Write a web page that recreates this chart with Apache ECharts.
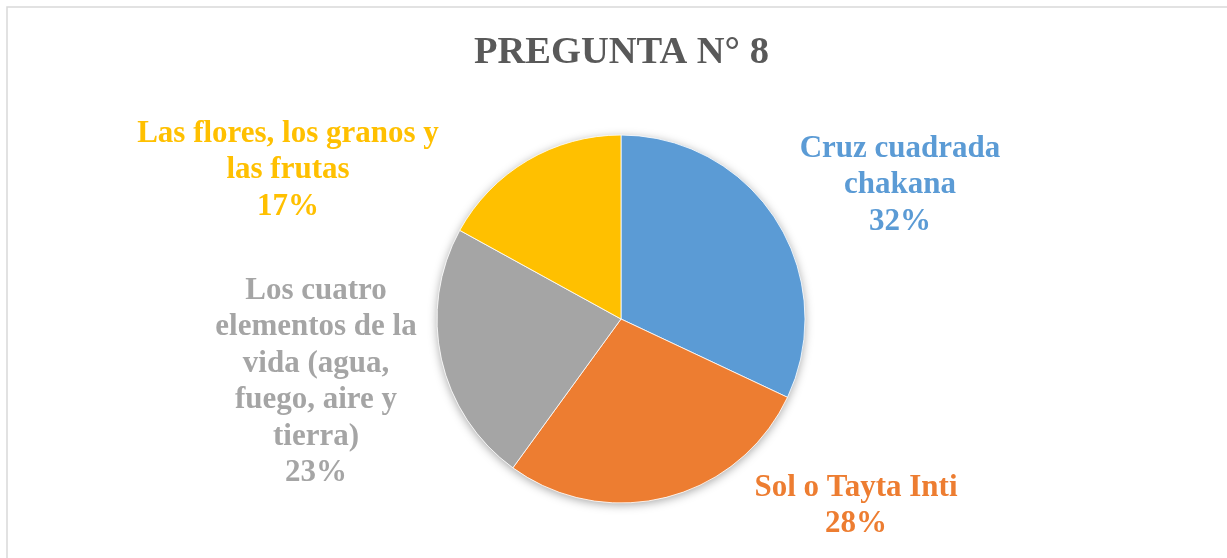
<!DOCTYPE html>
<html>
<head>
<meta charset="utf-8">
<script src="https://cdn.jsdelivr.net/npm/echarts@6/dist/echarts.min.js"></script>
<style>
  html, body { margin: 0; padding: 0; background: #fff; }
  #chart { width: 1227px; height: 558px; }
</style>
</head>
<body>
<div id="chart"></div>
<script>
var categories = [
  'Cruz cuadrada\nchakana',
  'Sol o Tayta Inti',
  'Los cuatro\nelementos de la\nvida (agua,\nfuego, aire y\ntierra)',
  'Las flores, los granos y\nlas frutas'
];
var values = [32, 28, 23, 17];
var colors = ['#5b9bd5', '#ed7d31', '#a5a5a5', '#ffc000'];

// label centres, one per slice
var labelPos = [[900, 185], [856, 506], [316, 382], [288, 170]];

var myChart = echarts.init(document.getElementById('chart'));

var pieData = [];
for (var i = 0; i < categories.length; i++) {
  pieData.push({
    name: categories[i],
    value: values[i],
    itemStyle: { color: colors[i] },
    label: { color: colors[i] }
  });
}

var serif = '"Liberation Serif", "Times New Roman", serif';

var option = {
  animation: false,
  title: {
    text: 'PREGUNTA N° 8',
    left: 469,
    top: 29,
    textStyle: {
      fontFamily: serif,
      fontWeight: 'bold',
      fontSize: 38.5,
      color: '#595959'
    }
  },
  graphic: [{
    type: 'rect',
    shape: { x: 7, y: 7, width: 1240, height: 570 },
    style: { fill: 'none', stroke: '#d9d9d9', lineWidth: 1.5 },
    silent: true
  }],
  series: [{
    // soft shadow under the whole pie
    type: 'pie',
    center: [621, 319],
    radius: 184,
    silent: true,
    z: 1,
    label: { show: false },
    labelLine: { show: false },
    itemStyle: {
      color: '#fff',
      shadowBlur: 10,
      shadowColor: 'rgba(0,0,0,0.35)',
      shadowOffsetY: 2
    },
    data: [{ value: 1, name: '' }]
  }, {
    type: 'pie',
    center: [621, 319],
    radius: 184,
    startAngle: 90,
    clockwise: true,
    z: 2,
    itemStyle: { borderColor: '#fff', borderWidth: 0.8 },
    label: {
      show: true,
      position: 'outside',
      fontFamily: serif,
      fontWeight: 'bold',
      fontSize: 31,
      lineHeight: 36.5,
      align: 'center',
      formatter: function(p) {
        return p.name + '\n' + Math.round(p.percent) + '%';
      }
    },
    labelLine: { show: false },
    labelLayout: function(params) {
      var pos = labelPos[params.dataIndex];
      return { x: pos[0], y: pos[1], align: 'center', verticalAlign: 'middle' };
    },
    emphasis: { disabled: true },
    data: pieData
  }]
};

myChart.setOption(option);
</script>
</body>
</html>
